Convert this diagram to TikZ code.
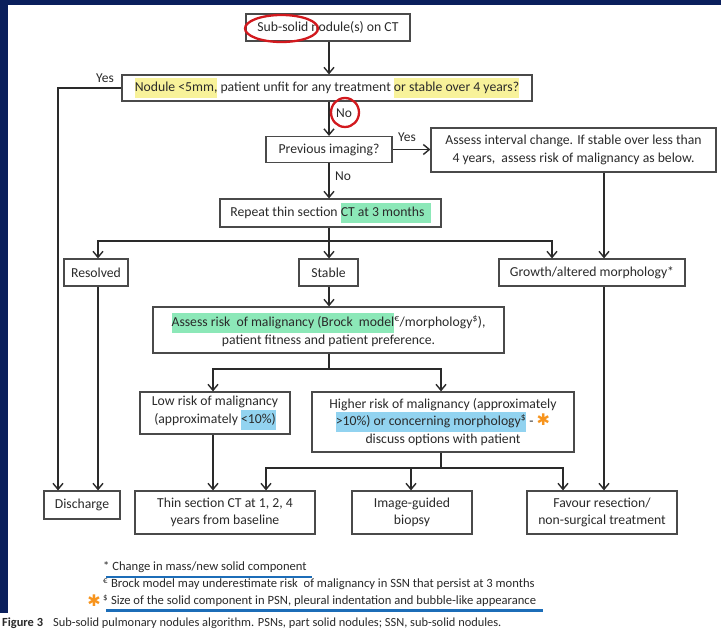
\documentclass[tikz,border=0pt]{standalone}
\usepackage{fontspec}
\setmainfont{Carlito}
\newfontfamily\djv{DejaVu Sans}
\usetikzlibrary{arrows.meta}
\definecolor{navy}{HTML}{0A1F5C}
\definecolor{hlyel}{HTML}{F8F29A}
\definecolor{hlgrn}{HTML}{8CE8B8}
\definecolor{hlblu}{HTML}{92D3F0}
\definecolor{ringred}{HTML}{D2191E}
\definecolor{astor}{HTML}{F7941D}
\definecolor{ulblue}{HTML}{1C6DB8}
\definecolor{inkc}{HTML}{2A2A2A}
\newcommand\hlt[2]{{\setlength\fboxsep{0pt}\colorbox{#1}{\rule[-6.5pt]{0pt}{20pt}#2}}}
\newcommand\bigast{{\djv\color{astor}\fontsize{16}{16}\selectfont ✱}}
\tikzset{
  box/.style={draw=inkc!85, line width=1.2pt, inner sep=0pt, align=center,
    font=\fontsize{13.7}{17.5}\selectfont, text=inkc},
  arr/.style={draw=inkc, line width=1.4pt, -{Straight Barb[length=6pt,width=10pt]}},
  ln/.style={draw=inkc, line width=1.4pt},
  lbl/.style={font=\fontsize{13.5}{15}\selectfont, text=inkc, inner sep=0pt},
  foot/.style={font=\fontsize{12.6}{14}\selectfont, text=inkc, inner sep=0pt, anchor=west},
  ring/.style={draw=ringred, line width=2.3pt}
}
\begin{document}
\begin{tikzpicture}[x=1pt,y=-1pt]
\useasboundingbox (0,0) rectangle (721,631);
\fill[white] (0,0) rectangle (721,631);
\fill[navy] (0,0) rectangle (721,5);
\fill[navy] (0,0) rectangle (8,613);
% x positions
\coordinate (xc) at (329,0);
\coordinate (xd) at (58,0);
\coordinate (xr) at (98,0);
\coordinate (xg) at (552,0);
\coordinate (xv) at (604,0);
\coordinate (xl) at (213,0);
\coordinate (xh) at (441,0);
\coordinate (xt) at (266,0);
\coordinate (xb) at (411,0);
\coordinate (xf) at (563,0);
% boxes
\node[box, minimum width=164pt, minimum height=27pt] (b1) at (328,27.5) {Sub-solid nodule(s) on CT};
\node[box, minimum width=410pt, minimum height=26pt] (b2) at (327,88) {\hlt{hlyel}{Nodule <5mm,} patient unfit for any treatment \hlt{hlyel}{or stable over 4 years?}};
\node[box, minimum width=126pt, minimum height=26pt] (b3) at (329,149.5) {Previous imaging?};
\node[box, minimum width=285pt, minimum height=44pt] (b4) at (573.5,150) {Assess interval change. If stable over less than\\4 years,\ \ assess risk of malignancy as below.};
\node[box, minimum width=221pt, minimum height=28pt] (b5) at (330.5,213) {Repeat thin section \hlt{hlgrn}{CT at 3 months\ \ }};
\node[box, minimum width=64pt, minimum height=27pt] (res) at (96,272.5) {Resolved};
\node[box, minimum width=59pt, minimum height=27pt] (sta) at (328.5,272.5) {Stable};
\node[box, minimum width=186pt, minimum height=27pt] (gro) at (592,272.5) {Growth/altered morphology*};
\node[box, minimum width=351pt, minimum height=46pt] (ass) at (328.5,330) {\hlt{hlgrn}{Assess risk\ \ of malignancy (Brock\ \ model}\textsuperscript{€}/morphology\textsuperscript{\$}),\\patient fitness and patient preference.};
\node[box, minimum width=150pt, minimum height=42pt] (low) at (215,413) {Low risk of malignancy\\(approximately \hlt{hlblu}{<10\%)}};
\node[box, minimum width=262pt, minimum height=60pt] (hig) at (443,422) {Higher risk of malignancy (approximately\\\hlt{hlblu}{>10\%) or concerning morphology\textsuperscript{\$}} - \bigast\\discuss options with patient};
\node[box, minimum width=76pt, minimum height=28pt] (dis) at (82,505) {Discharge};
\node[box, minimum width=180pt, minimum height=43pt] (thi) at (225,512.5) {Thin section CT at 1, 2, 4\\years from baseline};
\node[box, minimum width=120pt, minimum height=43pt] (bio) at (412,512.5) {Image-guided\\biopsy};
\node[box, minimum width=150pt, minimum height=43pt] (fav) at (602,512.5) {Favour resection/\\non-surgical treatment};
% junctions
\coordinate (j1) at (329,241);
\coordinate (j2) at (329,369);
\coordinate (j3) at (441,468);
% connectors
\draw[arr] (xc |- b1.south) -- (xc |- b2.north);
\draw[arr] (b2.west) -| (xd |- dis.north);
\draw[arr] (xc |- b2.south) -- (xc |- b3.north);
\draw[arr] (b3.east) -- (b3.east -| b4.west);
\draw[arr] (xc |- b3.south) -- (xc |- b5.north);
\draw[arr] (xv |- b4.south) -- (xv |- gro.north);
\draw[ln] (xc |- b5.south) -- (j1);
\draw[arr] (j1) -| (xr |- res.north);
\draw[arr] (j1) -| (xg |- gro.north);
\draw[arr] (j1) -- (xc |- sta.north);
\draw[arr] (xc |- sta.south) -- (xc |- ass.north);
\draw[ln] (xc |- ass.south) -- (j2);
\draw[arr] (j2) -| (xl |- low.north);
\draw[arr] (j2) -| (xh |- hig.north);
\draw[arr] (xl |- low.south) -- (xl |- thi.north);
\draw[ln] (xh |- hig.south) -- (j3);
\draw[arr] (j3) -| (xt |- thi.north);
\draw[arr] (j3) -| (xf |- fav.north);
\draw[arr] (j3 -| xb) -- (xb |- bio.north);
\draw[arr] (xr |- res.south) -- (xr |- dis.north);
\draw[arr] (xv |- gro.south) -- (xv |- fav.north);
% labels
\node[lbl] (yes1) at (105,78) {Yes};
\node[lbl] (no1) at (344,113) {No};
\node[lbl] (yes2) at (407,137) {Yes};
\node[lbl] (no2) at (343,176) {No};
% red rings
\draw[ring] (281.5,28.5) ellipse [x radius=36.5, y radius=13.5];
\draw[ring] (345,112.5) ellipse [x radius=14, y radius=14.5];
% footnotes
\node[foot] (f1) at (103,567) {* Change in mass/new solid component};
\node[foot] (f2) at (103,584) {\textsuperscript{€} Brock model may underestimate risk\ \ of malignancy in SSN that persist at 3 months};
\node[foot] (f3) at (103,601) {\textsuperscript{\$} Size of the solid component in PSN, pleural indentation and bubble-like appearance};
\node[inner sep=0pt] (fa) at (94,601) {\bigast};
\draw[ulblue, line width=2.6pt] (106,577) -- (312,577);
\draw[ulblue, line width=2.6pt] (106,610.5) -- (543,610.5);
% caption
\node[inner sep=0pt, anchor=west, text=inkc, font=\fontsize{12.4}{13}\selectfont] (cap) at (2,623) {\textbf{Figure 3}\hspace{10pt}Sub-solid pulmonary nodules algorithm. PSNs, part solid nodules; SSN, sub-solid nodules.};
\end{tikzpicture}
\end{document}
